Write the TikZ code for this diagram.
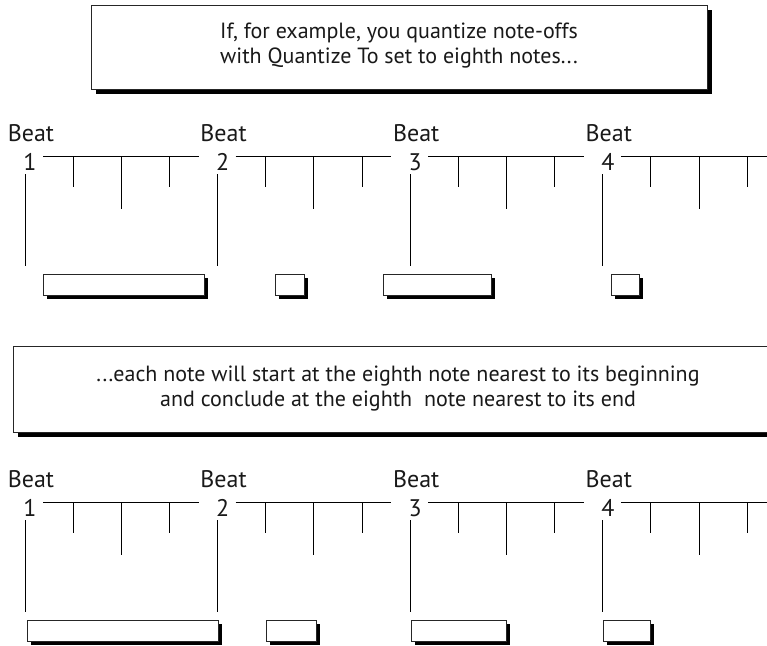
\documentclass[tikz,border=0pt]{standalone}
\usepackage{fontspec}
\setmainfont{PT Sans}
\usetikzlibrary{shadows}
\begin{document}
\begin{tikzpicture}[x=1pt,y=-1pt,
  rule/.style={draw=black, line width=1pt},
  notebox/.style={draw=black!85, line width=1pt, fill=white, inner sep=0pt, anchor=north west,
    minimum height=21pt,
    drop shadow={shadow xshift=3pt, shadow yshift=-3pt, fill=black, opacity=1}},
  capbox/.style={draw=black!85, line width=1pt, fill=white, inner sep=0pt,
    drop shadow={shadow xshift=4.5pt, shadow yshift=-4.5pt, fill=black, opacity=1}},
  lbl/.style={font=\fontsize{24}{26}\selectfont, text=black!90, inner sep=0pt, anchor=base},
  captext/.style={align=center, font=\fontsize{22}{25}\selectfont, text=black!90, inner sep=0pt}]
\useasboundingbox (0,0) rectangle (767,645);
\clip (0,0) rectangle (767,645);
\fill[white] (0,0) rectangle (767,645);

% caption boxes
\node[capbox, minimum width=616pt, minimum height=84pt] (cap1box) at (399,47) {};
\node[captext] (cap1) at (399,46) {If, for example, you quantize note-offs\\with Quantize To set to eighth notes...};

\node[capbox, minimum width=787pt, minimum height=86pt] (cap2box) at (406.5,389) {};
\node[captext] (cap2) at (398,389) {...each note will start at the eighth note nearest to its beginning\\and conclude at the eighth\ \ note nearest to its end};

% rulers
\foreach \r/\ry in {1/156, 2/502} {
  \foreach \i/\bx in {1/25, 2/217.6, 3/410.2, 4/602.8} {
    \node[lbl] (beat\r\i) at (\bx+6, \ry-15) {Beat};
    \node[lbl] (num\r\i) at (\bx+5, \ry+14) {\i};
    \coordinate (start\r\i) at (\bx, \ry+18);
    \coordinate (end\r\i) at (\bx, \ry+110);
    \draw[rule] (start\r\i) -- (end\r\i);
    \coordinate (segA\r\i) at (\bx+18, \ry);
    \coordinate (segB\r\i) at (\bx+173.6, \ry);
    \draw[rule] (segA\r\i) -- (segB\r\i);
    \foreach \t/\len in {1/31, 2/53, 3/31} {
      \coordinate (tickA\r\i\t) at (\bx+48.15*\t, \ry);
      \draw[rule] (tickA\r\i\t) -- ++(0,\len);
    }
  }
}

% notes
\foreach \r/\ry/\list in {1/156/{43/204, 275/304, 383/491, 611/639}, 2/502/{27/218, 266/316, 411/506, 603/650}} {
  \foreach \xa/\xb [count=\k] in \list {
    \node[notebox, minimum width={(\xb-\xa)*1pt}] (note\r\k) at (\xa, \ry+118) {};
  }
}
\end{tikzpicture}
\end{document}
